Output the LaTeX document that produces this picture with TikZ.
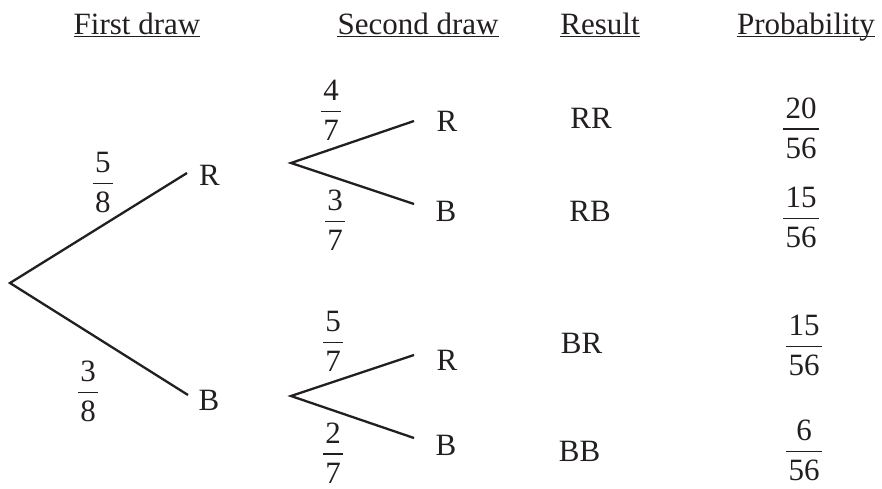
\documentclass[tikz,border=0pt]{standalone}
\usepackage{fontspec}
\setmainfont{Liberation Serif}
\definecolor{ink}{HTML}{231F20}

% A stacked fraction: #1 name, (#2,#3) centre of the bar, #4 numerator, #5 denominator
\newcommand\probfrac[5]{%
  \node[txt,anchor=base] (#1n) at (#2,#3-11) {#4};
  \node[txt,anchor=base,inner xsep=2pt] (#1d) at (#2,#3+29) {#5};
  \coordinate (#1b) at (#2,#3);
  \draw[fracbar] (#1d.west |- #1b) -- (#1d.east |- #1b);}

\tikzset{
  txt/.style={inner sep=0pt, text=ink, font=\fontsize{31}{37}\selectfont},
  head/.style={txt, anchor=base},
  lbl/.style={txt, anchor=base},
  branch/.style={draw=ink, line width=2.3pt},
  fracbar/.style={draw=ink, line width=1.5pt},
  uline/.style={draw=ink, line width=1.7pt},
}

\begin{document}
\begin{tikzpicture}[x=1pt, y=-1pt]
\useasboundingbox (0,0) rectangle (882,488);

% column headings
\node[head] (h1) at (137,34) {First draw};
\node[head] (h2) at (418,34) {Second draw};
\node[head] (h3) at (600,34) {Result};
\node[head] (h4) at (806,34) {Probability};
\foreach \h in {h1,h2,h3,h4}
  \draw[uline] ([yshift=-2.6pt]\h.base west) -- ([yshift=-2.6pt]\h.base east);

% branch points
\coordinate (root) at (10,283);
\coordinate (r1) at (187,173);
\coordinate (b1) at (188,395);
\coordinate (forkR) at (291,163);
\coordinate (forkB) at (291,396);
\coordinate (rr) at (414,121);
\coordinate (rb) at (414,204);
\coordinate (br) at (414,355);
\coordinate (bb) at (414,438);

% first draw
\draw[branch] (r1) -- (root) -- (b1);
\node[lbl] (lR1) at (209.5,185) {R};
\node[lbl] (lB1) at (209,410) {B};
\probfrac{p58}{102.8}{183.3}{5}{8}
\probfrac{p38}{88}{392.7}{3}{8}

% second draw
\draw[branch] (rr) -- (forkR) -- (rb);
\draw[branch] (br) -- (forkB) -- (bb);
\node[lbl] (lRR) at (447,131.7) {R};
\node[lbl] (lRB) at (446,221.7) {B};
\node[lbl] (lBR) at (447,370) {R};
\node[lbl] (lBB) at (446,455) {B};
\probfrac{p47}{331}{111.7}{4}{7}
\probfrac{p37}{335}{221.7}{3}{7}
\probfrac{p57}{333}{342.7}{5}{7}
\probfrac{p27}{333}{454}{2}{7}

% results
\node[lbl] (resRR) at (591,128.3) {RR};
\node[lbl] (resRB) at (590,221.7) {RB};
\node[lbl] (resBR) at (581.5,353.3) {BR};
\node[lbl] (resBB) at (579.5,461.7) {BB};

% probabilities
\probfrac{q1}{801}{129}{20}{56}
\probfrac{q2}{801}{218.3}{15}{56}
\probfrac{q3}{804}{346.7}{15}{56}
\probfrac{q4}{804}{451.7}{6}{56}
\end{tikzpicture}
\end{document}
